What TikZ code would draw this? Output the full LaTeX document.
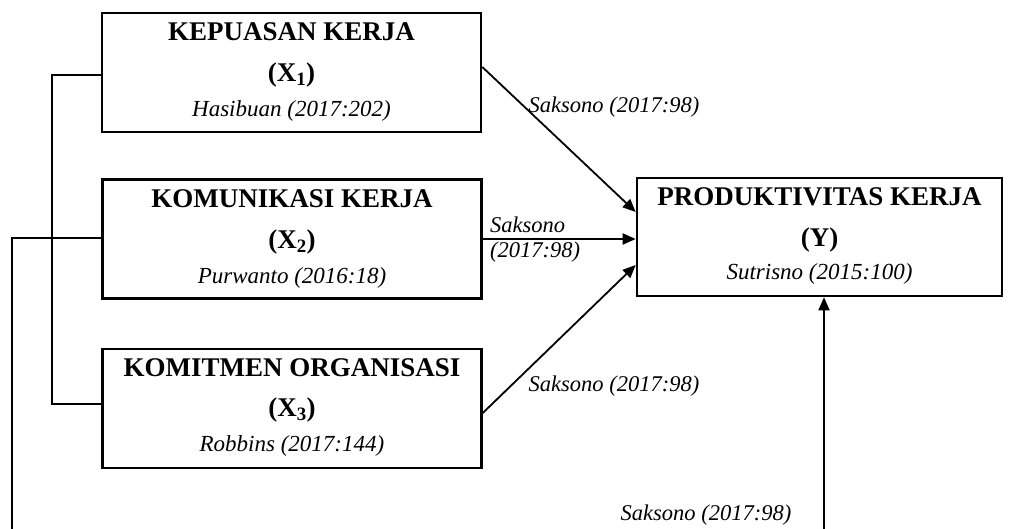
\documentclass[tikz,border=0pt]{standalone}
\usepackage{fontspec}
\setmainfont{Liberation Serif}
\usetikzlibrary{arrows.meta,calc}
\begin{document}
\begin{tikzpicture}[x=1pt,y=-1pt,
  box/.style={draw,line width=2.6pt,minimum width=379pt,minimum height=119pt,inner sep=0pt},
  ttl/.style={anchor=base,font=\fontsize{27}{30}\selectfont\bfseries,inner sep=0pt},
  refl/.style={anchor=base,font=\fontsize{23}{27}\selectfont\itshape,inner sep=0pt},
  lbl/.style={anchor=base,font=\fontsize{22.5}{26}\selectfont\itshape,inner sep=0pt},
  conn/.style={line width=1.3pt},
  arr/.style={line width=1.8pt,-{Triangle[length=13pt,width=11pt]}}]
\useasboundingbox (0,0) rectangle (1013,529);

% boxes
\node[box] (x1) at (291.5,72.5) {};
\node[box] (x2) at (292,239) {};
\node[box] (x3) at (292,408.5) {};
\node[box,minimum width=365pt,minimum height=118pt] (y) at (819.5,237) {};

% box texts
\node[ttl] (x1t) at ([yshift=-29pt]x1.north) {KEPUASAN KERJA};
\node[ttl] (x1v) at ([yshift=-70pt]x1.north) {(X\textsubscript{1})};
\node[refl] (x1r) at ([yshift=-105pt]x1.north) {Hasibuan (2017:202)};

\node[ttl] (x2t) at ([yshift=-29pt]x2.north) {KOMUNIKASI KERJA};
\node[ttl] (x2v) at ([yshift=-70pt]x2.north) {(X\textsubscript{2})};
\node[refl] (x2r) at ([yshift=-105pt]x2.north) {Purwanto (2016:18)};

\node[ttl] (x3t) at ([yshift=-29pt]x3.north) {KOMITMEN ORGANISASI};
\node[ttl] (x3v) at ([yshift=-69pt]x3.north) {(X\textsubscript{3})};
\node[refl] (x3r) at ([yshift=-104pt]x3.north) {Robbins (2017:144)};

\node[ttl] (yt) at ([yshift=-29pt]y.north) {PRODUKTIVITAS KERJA};
\node[ttl] (yv) at ([yshift=-70pt]y.north) {(Y)};
\node[refl] (yr) at ([yshift=-103pt]y.north) {Sutrisno (2015:100)};

% arrows to Y
\draw[arr] ([yshift=5.5pt]x1.east) -- ([yshift=25pt]y.west);
\draw[arr] (x2.east) -- (x2.east -| y.west);
\draw[arr] ([yshift=-4.5pt]x3.east) -- ([yshift=-28pt]y.west);
\coordinate (bot) at (824,529);
\draw[arr] (bot) -- (bot |- y.south);

% arrow labels
\node[lbl] (l1) at (614,113) {Saksono (2017:98)};
\node[lbl,anchor=base west] (l2a) at (490,233) {Saksono};
\node[lbl,anchor=base west] (l2b) at (490,258) {(2017:98)};
\node[lbl] (l3) at (614,392) {Saksono (2017:98)};
\node[lbl] (l4) at (706,520) {Saksono (2017:98)};

% left connectors
\coordinate (c1) at (52,75);
\coordinate (bl) at (12,529);
\draw[conn] ([yshift=-2.5pt]x1.west) -- (c1) |- ([yshift=4.5pt]x3.west);
\draw[conn] ([yshift=1pt]x2.west) -| (bl);
\end{tikzpicture}
\end{document}
